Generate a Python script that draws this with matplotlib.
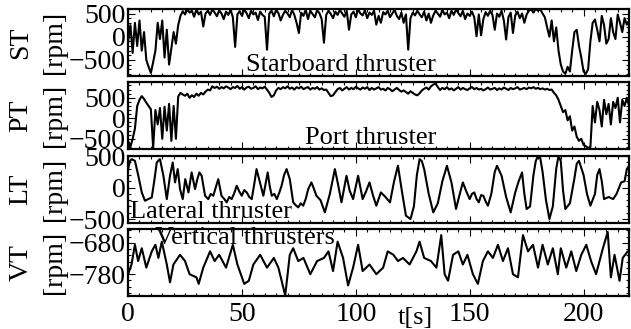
import numpy as np
import matplotlib
matplotlib.use('Agg')
import matplotlib.pyplot as plt
from matplotlib.ticker import MultipleLocator, AutoMinorLocator

plt.rcParams['font.family'] = ['Liberation Serif', 'DejaVu Serif']
plt.rcParams['font.size'] = 20
plt.rcParams['mathtext.fontset'] = 'stix'

# -----------------------------
# thruster speeds [rpm], 1 s sampling for ST / PT
# -----------------------------
st_rpm = [
    -100, 250, -350, 300, -200, 350, -300, 100, -500, -650,
    -780, -550, -300, 300, -50, 350, -450, 150, -600, -250,
    100, -150, 250, 450, 550, 480, 590, 520, 560, 430,
    590, 480, 540, 220, 500, 560, 470, 590, 520, 440,
    570, 500, 380, 540, 470, 580, 420, -220, 480, 550,
    450, 590, 510, 400, 560, 480, 520, 360, 540, 470,
    430, -280, 500, 560, 440, 580, 510, 350, 470, 560,
    500, 420, 580, 470, 300, 80, 520, 450, 580, 380,
    560, 490, 420, 570, 510, 380, -130, 470, 560, 490,
    400, 540, 470, 580, 500, 430, 560, 150, 480, 540,
    420, 590, 500, 460, 570, 400, 520, 470, 560, 260,
    450, 300, 530, 480, 560, 420, 500, 580, 450, 380,
    520, 300, 480, -280, 400, 520, 460, 560, 480, 420,
    540, 350, 500, 300, 460, 560, 500, 430, 580, 480,
    520, 400, 560, 470, 590, 510, 440, 560, 380, 500,
    450, 540, 420, 10, 480, 30, 380, 530, 450, 560,
    470, 150, 500, 430, 560, 350, -60, 420, 520, 80,
    460, 540, 400, 500, 300, 480, 560, 590, 520, 600,
    560, 590, 500, 420, 200, 0, 350, -100, 200, -300,
    -600, -750, -800, -650, -750, -300, 100, 150, -200, -450,
    -750, -800, -700, -100, 300, 370, 150, -100, 450, 250,
    -150, -50, 400, 100, -50, 480, 300, 100, 400, 260,
    350,
]

pt_rpm = [
    -550, -700, -500, -250, 300, 450, 540, 470, 380, 300,
    220, -720, 200, -150, 250, -500, 280, -300, 350, -550,
    300, -500, 530, 620, 580, 550, 600, 500, 560, 520,
    600, 550, 620, 580, 650, 700, 680, 780, 740, 770,
    720, 760, 730, 780, 750, 710, 760, 740, 790, 720,
    760, 700, 750, 770, 720, 740, 780, 710, 750, 730,
    770, 700, 620, 520, 560, 680, 740, 710, 760, 730,
    780, 720, 750, 700, 760, 730, 770, 710, 740, 760,
    700, 740, 720, 760, 700, 730, 690, 700, 620, 540,
    560, 640, 710, 740, 680, 720, 760, 700, 740, 710,
    770, 730, 700, 750, 720, 760, 690, 740, 700, 730,
    760, 700, 720, 680, 740, 710, 660, 700, 740, 690,
    650, 680, 640, 600, 660, 620, 580, 560, 610, 680,
    720, 750, 700, 780, 820, 850, 760, 690, 740, 710,
    760, 700, 730, 680, 720, 760, 700, 740, 710, 690,
    730, 760, 710, 740, 700, 720, 680, 710, 750, 700,
    720, 740, 690, 730, 700, 750, 720, 690, 740, 710,
    730, 760, 700, 720, 740, 710, 750, 730, 760, 720,
    740, 710, 730, 700, 720, 690, 700, 620, 560, 450,
    300, 150, 200, -50, 50, -300, -200, -450, -550, -500,
    -650, -680, -720, -700, 300, -100, 400, 200, -200, 450,
    100, 350, -150, 400, 250, 500, -100, 450, 300, 500,
    300,
]

lt_t = [
    0, 0.8, 1.6, 3, 4.5, 6, 7.4, 8.9, 10.4, 11.4, 12.6, 13.3, 14, 15.5,
    17, 18.4, 19.6, 20.6, 21.8, 22.8, 24, 25.1, 26.5, 27.9, 29.4, 30.3,
    31.3, 32.3, 33.8, 35.2, 36.3, 37.4, 39.6, 41, 42.2, 43.3, 44.4, 45.5,
    46.6, 47.7, 48.8, 49.9, 51, 52.1, 53.2, 54.3, 55.5, 56.4, 57.9, 59.4,
    60.3, 61.3, 62.2, 63.1, 64.2, 65.3, 66.4, 67.4, 68.5, 69.6, 71, 72.5,
    73.6, 74.7, 75.8, 76.9, 78, 79.1, 80.5, 81.6, 82.7, 84.5, 86.4, 88.6,
    90.8, 92.2, 93.7, 95.9, 97.3, 98.8, 101, 102, 103, 104.5, 106, 107.5,
    109, 111, 113, 115, 116.8, 118.5, 120.2, 122, 124, 125.5, 126.8, 128,
    129, 130, 132, 134, 136, 138, 140, 142, 144, 145.5, 147, 148.5, 150,
    151, 152, 153, 154, 155, 156, 157, 158, 159.5, 161, 162, 164, 166,
    168, 170, 171.5, 173, 174, 175, 176.5, 178, 179, 180, 181, 182, 183.5,
    185, 186.5, 188, 189, 190, 191, 192, 194, 196, 197, 198, 200, 201.5,
    203, 205, 206, 207, 208, 209, 211, 213, 214.5, 216.5, 218, 219, 220,
]
lt_rpm = [
    294, 420, 452, 425, 188, -77, -209, -183, -156, 82, 399, 430, 452, 188,
    -183, 188, 399, 82, 294, -24, -183, 135, -77, 241, -24, 120,
    241, 188, -130, -183, -100, -130, 135, -130, -180, -235, -150, -183,
    -90, 29, -60, -130, -40, -77, -150, -183, 80, 294, 82, -130,
    50, 241, 20, -130, -100, -183, -80, 29, 200, 294, 135, -235,
    -280, -315, -250, -288, -180, -24, 82, -20, -130, -200, -394, -100,
    294, 50, -235, 188, -50, -183, 188, 0, -183, -60, 82, -120,
    -288, -77, -150, -235, 100, 347, -50, -447, -500, -300, 200, 452,
    420, 294, -100, -394, -250, 100, 347, 82, -341, -120, 82, -60, -183,
    -100, -77, -180, -235, -120, -130, -220, -288, -100, 250, 347, 188, -150,
    -394, -77, 100, 241, -100, -341, -300, 200, 420, 505, 470, 250, -200,
    -500, -300, 300, 505, 420, -50, -341, -250, 150, 380, 426, 200, -100,
    -288, -100, 200, 294, 100, -183, -150, -183, -100, 82, 100, 294, 347,
]

vt_t = [
    0, 1.5, 3, 4.4, 6, 8, 10.4, 12, 13.3, 14.8, 17, 18.4, 19.9, 22.8,
    25, 27, 30, 31, 33, 36, 38, 40, 43, 46, 48, 51, 53, 55, 58, 61, 64,
    66, 69, 71, 72.5, 74.7, 77, 80, 83, 86, 88, 90, 92, 94.4, 96.6, 98.8,
    101, 103, 106, 109, 112, 114, 116.5, 118.5, 120.7, 123.6, 126.6, 128,
    130, 133, 135.4, 137.5, 139, 140.5, 142.7, 145, 147, 149, 151.4,
    153.6, 155.8, 158, 160.2, 162.4, 164.6, 166.8, 169, 171.2, 173.4,
    175.6, 177.8, 180, 182, 184.3, 186.5, 188.7, 190, 192.4, 194.6,
    196.8, 199, 201.2, 203.3, 205.5, 208.5, 210.6, 212, 213.6, 215.8,
    217.2, 219.4, 220,
]
vt_rpm = [
    -780, -749, -686, -738, -697, -759, -707, -686, -728, -676, -749, -806, -749, -718,
    -738, -780, -790, -811, -759, -707, -738, -718, -759, -686, -749, -811, -801, -749, -718, -759, -728,
    -759, -848, -718, -697, -738, -728, -780, -738, -728, -707, -770, -676, -728, -816, -759,
    -686, -770, -749, -780, -759, -707, -718, -738, -728, -749, -707, -676,
    -728, -738, -759, -655, -780, -801, -718, -707, -749, -718, -780,
    -811, -738, -707, -728, -686, -738, -697, -780, -790, -655,
    -707, -686, -759, -686, -749, -697, -780, -697, -759, -707,
    -770, -718, -686, -738, -780, -697, -645, -790, -718, -801,
    -728, -707, -712,
]

st_t = np.arange(len(st_rpm))
pt_t = np.arange(len(pt_rpm))

panels = [
    (st_t, st_rpm, 'ST\n[rpm]', (-850, 600), [-500, 0, 500]),
    (pt_t, pt_rpm, 'PT\n[rpm]', (-760, 880), [-500, 0, 500]),
    (lt_t, lt_rpm, 'LT\n[rpm]', (-560, 510), [-500, 0, 500]),
    (vt_t, vt_rpm, 'VT\n[rpm]', (-850, -635), [-780, -680]),
]

fig, axes = plt.subplots(4, 1, figsize=(6.31, 3.29), dpi=100, sharex=True)
fig.subplots_adjust(left=0.203, right=0.997, top=0.973, bottom=0.100, hspace=0.09)

for ax, (t, y, lab, lim, yt) in zip(axes, panels):
    ax.plot(t, y, color='black', lw=1.5)
    ax.set_xlim(0, 220)
    ax.set_ylim(*lim)
    ax.set_yticks(yt)
    ax.yaxis.set_minor_locator(AutoMinorLocator())
    ax.xaxis.set_major_locator(MultipleLocator(50))
    ax.xaxis.set_minor_locator(MultipleLocator(5))
    ax.tick_params(which='both', direction='in', top=True, right=True, width=0.8)
    ax.tick_params(which='major', length=5, pad=2)
    ax.tick_params(which='minor', length=2.5)
    for sp in ax.spines.values():
        sp.set_linewidth(1.6)
    ax.set_ylabel(lab, linespacing=1.45)
    ax.yaxis.set_label_coords(-0.122, 0.5)

axes[0].text(0.425, 0.0, 'Starboard thruster', transform=axes[0].transAxes,
             ha='center', va='bottom', fontsize=19)
axes[1].text(0.485, 0.0, 'Port thruster', transform=axes[1].transAxes,
             ha='center', va='bottom', fontsize=19)
axes[2].text(0.004, 0.0, 'Lateral thruster', transform=axes[2].transAxes,
             ha='left', va='bottom', fontsize=19)
axes[3].text(0.054, 1.02, 'Vertical thrusters', transform=axes[3].transAxes,
             ha='left', va='top', fontsize=19)

axes[3].tick_params(axis='x', pad=4)
fig.text(415 / 631, 1 - 318 / 329, 't[s]', ha='center', va='center', fontsize=19)

fig.savefig('out.png', dpi=100)
